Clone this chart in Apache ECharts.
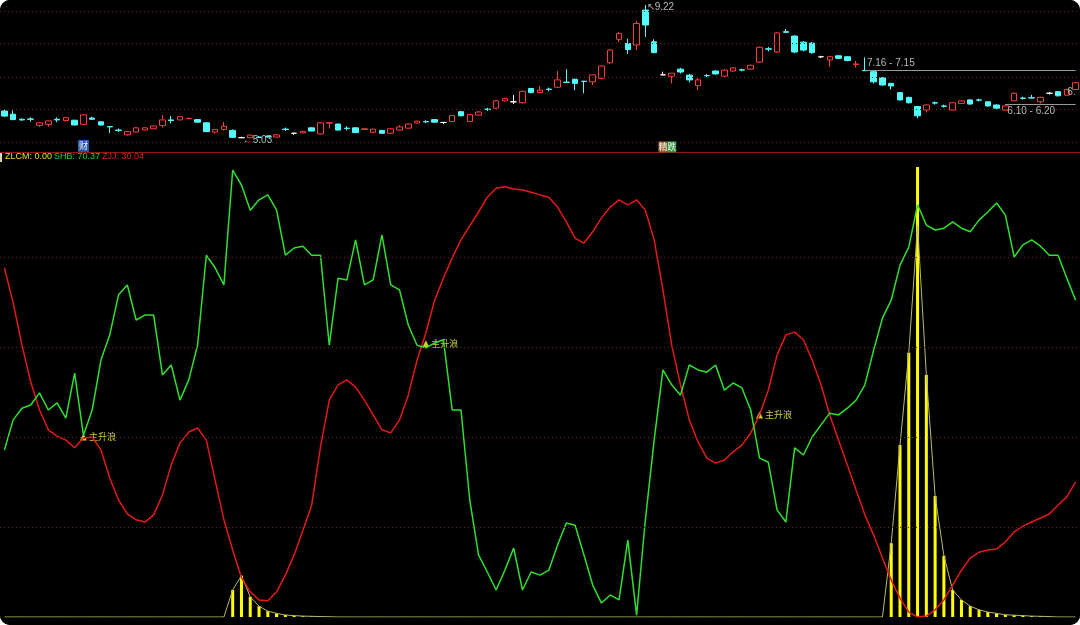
<!DOCTYPE html>
<html><head><meta charset="utf-8">
<script src="https://cdn.jsdelivr.net/npm/echarts@6/dist/echarts.min.js"></script>
<style>
html,body{margin:0;padding:0;background:#fff;}
#c{width:1080px;height:625px;background:#000;border-radius:10px;overflow:hidden;}
</style>
</head><body><div id="c"></div>
<script>
// ---------- DATA ----------
const open = [5.88,5.78,5.62,5.63,5.43,5.46,5.62,5.58,5.59,5.46, 5.66,5.54,5.39,5.28,5.13,5.22,5.28,5.32,5.42,5.60, 5.60,5.64,5.61,5.51,5.22,5.30,5.27,5.04,5.04,5.06, 5.09,5.06,5.31,5.18,5.19,5.35,5.16,5.50,5.47,5.34, 5.35,5.30,5.21,5.27,5.18,5.28,5.34,5.50,5.55,5.61, 5.52,5.55,5.86,5.55,5.75,5.94,5.97,6.20,6.17,6.14, 6.59,6.46,6.57,6.63,6.79,6.88,6.82,6.80,6.91,7.40, 8.14,8.01,7.96,9.06,8.06,7.02,6.98,7.20,7.01,6.68, 7.00,7.14,6.98,7.14,7.18,7.20,7.42,7.84,7.74,8.38, 8.24,8.05,8.02,7.59,7.49,7.62,7.59,7.35,7.16,7.12, 6.93,6.75,6.46,6.31,6.02,5.91,6.14,6.04,5.91,6.12, 6.23,6.23,6.17,6.07,5.91,6.20,6.29,6.30,6.17,6.44, 6.49,6.38,6.56];
const close = [5.72,5.61,5.60,5.62,5.51,5.57,5.60,5.67,5.44,5.76, 5.62,5.44,5.38,5.27,5.23,5.35,5.35,5.41,5.60,5.58, 5.70,5.65,5.53,5.23,5.30,5.40,5.05,5.04,5.12,5.05, 5.06,5.13,5.30,5.18,5.24,5.25,5.51,5.51,5.28,5.33, 5.20,5.32,5.31,5.18,5.32,5.38,5.47,5.56,5.54,5.53, 5.52,5.74,5.73,5.77,5.85,5.93,6.20,6.27,6.17,6.50, 6.46,6.54,6.56,6.86,6.78,6.75,6.81,7.02,7.30,7.80, 8.32,7.82,8.64,8.59,7.72,7.02,7.07,7.11,6.86,6.86, 6.99,7.05,7.17,7.24,7.17,7.32,7.89,7.83,8.34,8.36, 7.74,7.80,7.72,7.59,7.59,7.54,7.47,7.36,7.15,6.80, 6.70,6.67,6.23,6.14,5.73,6.07,6.13,6.03,6.14,6.20, 6.10,6.22,6.04,5.97,6.04,6.44,6.28,6.29,6.31,6.44, 6.36,6.56,6.77];
const low = [5.70,5.59,5.57,5.55,5.38,5.39,5.53,5.55,5.43,5.45, 5.60,5.42,5.19,5.22,5.11,5.21,5.27,5.31,5.36,5.49, 5.59,5.63,5.52,5.22,5.17,5.26,5.04,5.03,5.035,5.04, 5.05,5.05,5.25,5.13,5.18,5.24,5.15,5.33,5.27,5.27, 5.19,5.29,5.19,5.16,5.17,5.27,5.33,5.49,5.50,5.52, 5.47,5.54,5.71,5.54,5.74,5.88,5.95,6.18,6.10,6.12, 6.44,6.44,6.50,6.60,6.77,6.54,6.44,6.70,6.88,7.37, 8.05,7.68,7.80,8.22,7.70,7.01,6.75,7.06,6.78,6.54, 6.95,7.02,6.96,7.12,7.13,7.18,7.40,7.76,7.72,8.34, 7.70,7.76,7.68,7.55,7.27,7.52,7.45,7.25,7.14,6.75, 6.68,6.56,6.21,6.12,5.65,5.84,6.08,5.99,5.90,6.11, 6.08,6.18,6.02,5.95,5.90,6.20,6.24,6.28,6.12,6.40, 6.34,6.37,6.55];
const high = [5.92,5.90,5.65,5.68,5.52,5.58,5.68,5.70,5.60,5.77, 5.70,5.56,5.40,5.33,5.24,5.36,5.36,5.42,5.75,5.72, 5.71,5.66,5.62,5.52,5.31,5.54,5.30,5.07,5.13,5.09, 5.11,5.14,5.36,5.19,5.25,5.36,5.52,5.52,5.48,5.40, 5.37,5.33,5.32,5.28,5.33,5.43,5.48,5.57,5.59,5.62, 5.53,5.75,5.87,5.78,5.88,5.98,6.22,6.30,6.38,6.52, 6.61,6.67,6.62,7.14,7.20,6.90,6.83,7.03,7.32,7.83, 8.37,8.16,8.72,9.22,8.14,7.12,7.08,7.24,7.05,6.92, 7.04,7.16,7.19,7.26,7.21,7.34,7.91,7.90,8.36,8.46, 8.27,8.08,8.05,7.62,7.61,7.64,7.61,7.46,7.57,7.14, 6.95,6.77,6.48,6.33,6.04,6.09,6.18,6.08,6.16,6.22, 6.25,6.27,6.19,6.09,6.10,6.46,6.33,6.39,6.33,6.48, 6.51,6.58,6.79];

const shb = [37.1,43.8,46.4,47.1,49.8,46.0,47.6,44.2,54.2,40.4, 46.0,57.1,62.7,71.6,73.8,66.0,67.1,67.1,53.8,56.0, 48.2,52.7,60.4,80.4,77.6,73.8,99.3,96.0,90.4,92.7, 93.8,90.4,80.4,82.0,82.4,80.4,80.4,60.4,75.3,74.9, 83.8,73.8,74.9,84.9,73.8,72.7,64.9,60.4,59.8,60.9, 61.6,46.0,46.0,26.0,13.8,10.0,6.0,10.4,15.3,6.0, 10.0,9.3,10.4,16.0,20.9,20.4,13.8,7.1,3.1,4.9, 3.8,17.1,0.4,21.6,39.3,54.9,51.6,49.3,56.0,54.9, 54.4,56.0,50.4,52.0,50.9,46.0,35.3,34.4,23.8,21.1, 37.6,36.0,40.0,42.7,45.3,44.9,46.4,48.2,51.6,59.3, 66.4,70.4,78.2,82.2,91.6,87.1,86.0,86.4,87.8,86.4, 85.6,88.2,90.0,92.0,89.3,80.0,82.7,83.8,82.4,80.4, 80.4,75.3,70.37];
const zjj = [77.6,69.8,60.4,52.2,46.0,41.6,40.2,39.3,37.6,39.8, 40.0,37.1,30.9,26.0,22.9,21.6,21.1,22.7,27.1,33.8, 38.7,41.1,42.0,39.3,30.4,21.6,14.9,8.7,5.6,3.8, 3.6,5.6,9.3,13.8,19.3,24.9,37.8,48.2,51.6,52.7, 51.1,48.2,44.9,41.6,40.9,43.8,49.3,57.1,63.1,70.4, 75.3,79.8,83.8,86.9,90.0,93.3,95.3,95.6,95.1,94.9, 94.4,93.8,93.3,91.1,87.8,84.2,83.1,85.6,88.7,91.1, 92.7,91.6,92.7,90.4,83.8,72.7,60.4,51.6,43.8,38.9, 35.3,34.2,34.9,36.7,38.2,40.9,44.9,50.4,58.2,62.7, 63.3,61.6,57.1,51.6,44.9,39.3,33.8,28.2,22.7,18.2, 13.1,8.2,4.2,1.1,0.0,0.2,1.6,3.8,7.1,10.4, 13.1,14.4,14.9,15.1,16.7,18.9,20.2,21.1,22.0,22.9, 24.9,26.7,30.04];
const zlcm = [0,0,0,0,0,0,0,0,0,0, 0,0,0,0,0,0,0,0,0,0, 0,0,0,0,0,0,6.0,9.2,4.5,2.4, 1.3,0.8,0.45,0.3,0.2,0.15,0.1,0.05,0,0, 0,0,0,0,0,0,0,0,0,0, 0,0,0,0,0,0,0,0,0,0, 0,0,0,0,0,0,0,0,0,0, 0,0,0,0,0,0,0,0,0,0, 0,0,0,0,0,0,0,0,0,0, 0,0,0,0,0,0,0,0,0,0, 0,16.4,38.2,58.7,100,53.8,26.9,13.6,6.0,3.8, 2.4,1.6,1.1,0.8,0.5,0.4,0.3,0.2,0.15,0.1, 0,0,0];
// thin ZLCM line (its apex sits below the tallest stick)
const zlcmLine = [0,0,0,0,0,0,0,0,0,0, 0,0,0,0,0,0,0,0,0,0, 0,0,0,0,0,0,6.0,9.2,4.5,2.4, 1.3,0.8,0.45,0.3,0.2,0.15,0.1,0.05,0,0, 0,0,0,0,0,0,0,0,0,0, 0,0,0,0,0,0,0,0,0,0, 0,0,0,0,0,0,0,0,0,0, 0,0,0,0,0,0,0,0,0,0, 0,0,0,0,0,0,0,0,0,0, 0,0,0,0,0,0,0,0,0,0, 0,16.4,38.2,58.7,87.0,53.8,26.9,13.6,6.0,3.8, 2.4,1.6,1.1,0.8,0.5,0.4,0.3,0.2,0.15,0.1, 0,0,0];

const categories = open.map((_, i) => 'D' + (i + 1));
const priceGridLevels = [4.90, 5.94, 6.95, 8.02, 9.03];
const lowerGridLevels = [20, 40, 60, 80];
const signals = [[9, 40.0], [48, 60.7], [86, 44.9]];       // 主升浪
const highMark = [73, 9.22];
const lowMark = [27, 5.03];
const gapLines = [
  {from: 98, to: 122, price: 7.16, text: '7.16 - 7.15', pos: 'insideStartTop'},
  {from: 114, to: 122, price: 6.10, text: '6.10 - 6.20', pos: 'insideStartBottom'}
];
const badges = [
  {idx: 9, price: 4.78, text: '财', color: '#2c58a8', size: [11, 12]},
  {idx: 75, price: 4.75, text: '精', color: '#9a6228', size: [9, 11]},
  {idx: 76, price: 4.75, text: '跌', color: '#2f9a3a', size: [9, 11]}
];

// ---------- CHART ----------
const chart = echarts.init(document.getElementById('c'));
const gray = '#b8b8b8';
const dotRed = '#74201e';
const lblFont = 'Liberation Sans, Arial, sans-serif';

const candleData = open.map((o, i) => {
  const item = {value: [o, close[i], low[i], high[i]]};
  if (o === close[i]) item.itemStyle = {color: '#fff', color0: '#fff', borderColor: '#fff', borderColor0: '#fff'};
  return item;
});

const markPts = [
  {coord: highMark, symbolSize: 1, itemStyle: {color: 'rgba(0,0,0,0)'},
   label: {show: true, position: 'right', distance: 1, offset: [0, 3], formatter: '↖' + highMark[1].toFixed(2), color: gray, fontSize: 10, fontFamily: lblFont}},
  {coord: lowMark, symbolSize: 1, itemStyle: {color: 'rgba(0,0,0,0)'},
   label: {show: true, position: 'right', distance: 1, offset: [0, 3], formatter: '←' + lowMark[1].toFixed(2), color: gray, fontSize: 10, fontFamily: lblFont}},
  {coord: [121, 6.45], symbolSize: 1, itemStyle: {color: 'rgba(0,0,0,0)'},
   label: {show: true, position: 'right', distance: 0, formatter: '6.', color: gray, fontSize: 10, fontFamily: lblFont}}
].concat(badges.map(b => ({
  coord: [b.idx, b.price], symbol: 'rect', symbolSize: b.size, itemStyle: {color: b.color},
  label: {show: true, position: 'inside', formatter: b.text, color: '#f0f0f0', fontSize: 9, fontFamily: 'Noto Sans CJK SC'}
})));

const markLns = priceGridLevels.map(v => ({yAxis: v, label: {show: false}, lineStyle: {type: [1, 3], color: dotRed, width: 1}}))
  .concat(gapLines.map(g => [
    {coord: [g.from, g.price], lineStyle: {type: 'solid', color: '#9a9a9a', width: 1},
     label: {show: true, position: g.pos, formatter: g.text, color: gray, fontSize: 10, fontFamily: lblFont, distance: 2}},
    {coord: [g.to, g.price]}
  ]));

const option = {
  backgroundColor: '#000',
  animation: false,
  grid: [
    {left: -2, right: -2, top: 0, height: 152},
    {left: -2, right: -2, top: 167, height: 450}
  ],
  xAxis: [
    {type: 'category', data: categories, gridIndex: 0, show: false, boundaryGap: true},
    {type: 'category', data: categories, gridIndex: 1, show: false, boundaryGap: true}
  ],
  yAxis: [
    {type: 'value', gridIndex: 0, min: 4.589, max: 9.378, show: false},
    {type: 'value', gridIndex: 1, min: 0, max: 100, show: false}
  ],
  series: [
    {
      type: 'candlestick', xAxisIndex: 0, yAxisIndex: 0, data: candleData, barWidth: 6,
      itemStyle: {color: '#000', color0: '#54fcfc', borderColor: '#ff3c3c', borderColor0: '#54fcfc', borderWidth: 1},
      markLine: {silent: true, symbol: ['none', 'none'], data: markLns},
      markPoint: {silent: true, data: markPts}
    },
    {
      type: 'bar', xAxisIndex: 1, yAxisIndex: 1, data: zlcm, barWidth: 3,
      itemStyle: {color: '#ffff00'},
      markLine: {silent: true, symbol: ['none', 'none'],
        data: lowerGridLevels.map(v => ({yAxis: v})),
        label: {show: false}, lineStyle: {type: [1, 3], color: dotRed, width: 1}}
    },
    {type: 'line', xAxisIndex: 1, yAxisIndex: 1, data: zlcmLine, symbol: 'none', lineStyle: {color: '#b9b86c', width: 1}},
    {type: 'line', xAxisIndex: 1, yAxisIndex: 1, data: zjj, symbol: 'none', lineStyle: {color: '#e21a1a', width: 1.5}},
    {type: 'line', xAxisIndex: 1, yAxisIndex: 1, data: shb, symbol: 'none', lineStyle: {color: '#2fe02f', width: 1.5}},
    {
      type: 'scatter', xAxisIndex: 1, yAxisIndex: 1, data: signals, symbol: 'triangle', symbolSize: 7,
      itemStyle: {color: '#ffff30'},
      label: {show: true, position: 'right', distance: 2, formatter: '主升浪', color: '#ffff40', fontSize: 9, fontFamily: 'Noto Sans CJK SC'}
    }
  ],
  graphic: [
    {type: 'line', shape: {x1: 0, y1: 152.5, x2: 1080, y2: 152.5}, style: {stroke: '#8e1616', lineWidth: 1}},
    {type: 'rect', shape: {x: 0, y: 153, width: 2, height: 9}, style: {fill: '#d8d8b0'}},
    {type: 'text', left: 5, top: 152, style: {text: 'ZLCM: ' + zlcm[zlcm.length - 1].toFixed(2), fill: '#e0e020', font: '9px ' + lblFont}},
    {type: 'text', left: 54, top: 152, style: {text: 'SHB: ' + shb[shb.length - 1].toFixed(2), fill: '#2fd02f', font: '9px ' + lblFont}},
    {type: 'text', left: 102, top: 152, style: {text: 'ZJJ: ' + zjj[zjj.length - 1].toFixed(2), fill: '#d62020', font: '9px ' + lblFont}}
  ]
};
chart.setOption(option);
</script>
</body></html>
